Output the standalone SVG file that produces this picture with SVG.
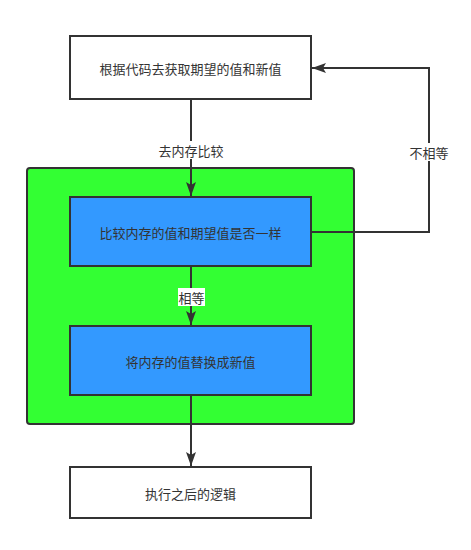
<svg xmlns="http://www.w3.org/2000/svg" width="471" height="550" viewBox="0 0 471 550">
<style>
  .box{stroke:#333;stroke-width:2}
  .t{font-family:"Noto Sans CJK SC","Noto Sans",sans-serif;font-size:13px;fill:#333;text-anchor:middle;dominant-baseline:central}
  .e{fill:none;stroke:#333;stroke-width:2}
  .lb{fill:#fff}
</style>
<defs>
  <marker id="arr" viewBox="0 0 14 10" refX="14" refY="5" markerWidth="14" markerHeight="10" markerUnits="userSpaceOnUse" orient="auto">
    <path d="M14,5 L0,0 L3,5 L0,10 Z" fill="#333"/>
  </marker>
</defs>
<rect width="471" height="550" fill="#fff"/>
<g id="container">
  <rect class="box" x="27" y="168" width="327" height="256" rx="3" fill="#33ff33"/>
</g>
<g id="node-get">
  <rect class="box" x="70" y="36" width="241" height="63" fill="#fff"/>
  <text class="t" x="190.5" y="68">根据代码去获取期望的值和新值</text>
</g>
<g id="node-compare">
  <rect class="box" x="70" y="197" width="241" height="69" fill="#3399ff"/>
  <text class="t" x="190.5" y="232">比较内存的值和期望值是否一样</text>
</g>
<g id="node-replace">
  <rect class="box" x="70" y="326" width="241" height="69" fill="#3399ff"/>
  <text class="t" x="190.5" y="361">将内存的值替换成新值</text>
</g>
<g id="node-after">
  <rect class="box" x="70" y="467" width="241" height="51" fill="#fff"/>
  <text class="t" x="190.5" y="493">执行之后的逻辑</text>
</g>
<g id="connectors">
  <path class="e" d="M191,99 L191,196" marker-end="url(#arr)"/>
  <rect class="lb" x="158" y="141" width="66" height="18"/>
  <text class="t" x="191" y="150">去内存比较</text>

  <path class="e" d="M311,232 L429,232 L429,68 L312,68" marker-end="url(#arr)"/>
  <rect class="lb" x="409" y="143" width="40" height="18"/>
  <text class="t" x="429" y="152">不相等</text>

  <path class="e" d="M191,266 L191,325" marker-end="url(#arr)"/>
  <rect class="lb" x="178" y="288" width="27" height="18"/>
  <text class="t" x="191.5" y="297">相等</text>

  <path class="e" d="M191,395 L191,466" marker-end="url(#arr)"/>
</g>
</svg>
